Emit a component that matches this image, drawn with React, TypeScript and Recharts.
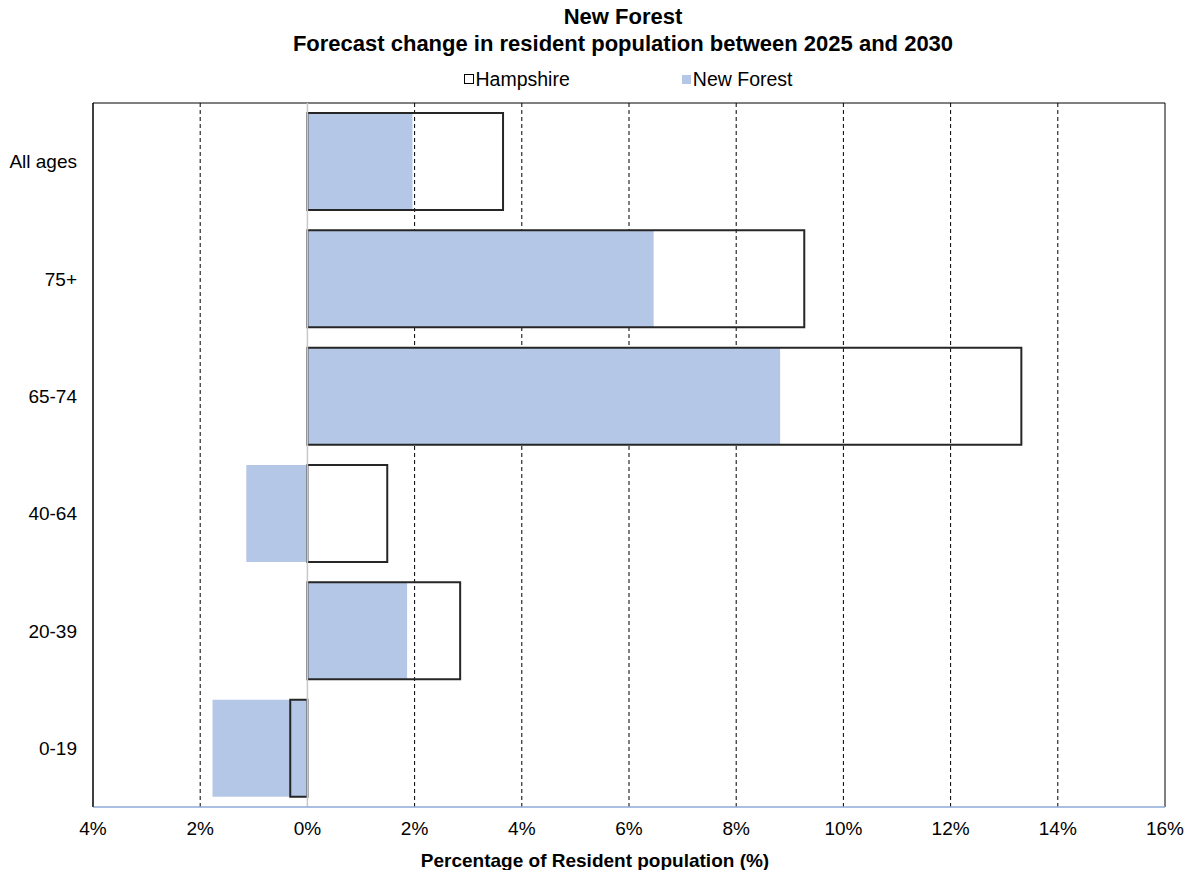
import React from 'react';
import { BarChart, Bar, XAxis, YAxis, CartesianGrid, ReferenceLine, ReferenceArea } from 'recharts';

const categories = ['All ages', '75+', '65-74', '40-64', '20-39', '0-19'];
const hampshire = [3.65, 9.27, 13.32, 1.49, 2.85, -0.32];
const newForest = [1.96, 6.46, 8.82, -1.14, 1.86, -1.77];
const xTicks = [-4, -2, 0, 2, 4, 6, 8, 10, 12, 14, 16];
const gridTicks = [-2, 2, 4, 6, 8, 10, 12, 14];

const data = categories.map((c, i) => ({ cat: c, hampshire: hampshire[i], newForest: newForest[i] }));

const FONT = '"Liberation Sans", Arial, sans-serif';
const PW = 1072;
const PH = 704;

export default function App() {
  return (
    <div style={{ position: 'relative', width: 1180, height: 862, fontFamily: FONT }}>
      <div style={{ position: 'absolute', left: 0, top: -5, width: 1230, textAlign: 'center', fontWeight: 'bold', fontSize: 22, lineHeight: '27px', color: '#000' }}>
        <div>New Forest</div>
        <div>Forecast change in resident population between 2025 and 2030</div>
      </div>
      <div style={{ position: 'absolute', left: 0, top: 59, width: 1240, display: 'flex', justifyContent: 'center', fontSize: 19.5, lineHeight: '24px', color: '#000' }}>
        <div style={{ display: 'flex', alignItems: 'center', marginRight: 112 }}>
          <span style={{ display: 'inline-block', width: 8, height: 8, border: '1.5px solid #000', marginRight: 2 }} />
          <span>Hampshire</span>
        </div>
        <div style={{ display: 'flex', alignItems: 'center' }}>
          <span style={{ display: 'inline-block', width: 9, height: 9, background: '#b4c7e7', marginRight: 2 }} />
          <span>New Forest</span>
        </div>
      </div>
      <BarChart
        width={1180}
        height={862}
        data={data}
        layout="vertical"
        margin={{ top: 95, right: 23, bottom: 0, left: 0 }}
        barCategoryGap="8.5%"
        style={{ position: 'absolute', left: 0, top: 0 }}
      >
        <CartesianGrid horizontal={false} vertical={true} verticalValues={gridTicks} stroke="#000" strokeDasharray="4 3" />
        <ReferenceArea yAxisId="a" x1={-4} x2={16} fill="none" stroke="#000" strokeWidth={1} strokeDasharray={`${PW + PH} ${PW} ${PH}`} />
        <XAxis
          type="number"
          dataKey="hampshire"
          domain={[-4, 16]}
          ticks={xTicks}
          tickFormatter={(v: number) => `${Math.abs(v)}%`}
          axisLine={{ stroke: '#8faadc', strokeWidth: 1.5 }}
          tickLine={false}
          tick={{ fill: '#000', fontSize: 19, fontFamily: FONT }}
          tickMargin={9}
          height={63}
          allowDataOverflow
          label={{ value: 'Percentage of Resident population (%)', position: 'insideBottom', offset: 3, dx: -34, fill: '#000', fontSize: 19, fontWeight: 'bold', fontFamily: FONT }}
        />
        <YAxis
          yAxisId="a"
          type="category"
          dataKey="cat"
          width={85}
          axisLine={{ stroke: '#000' }}
          tickLine={false}
          tick={{ fill: '#000', fontSize: 19, fontFamily: FONT }}
          tickMargin={10}
        />
        <YAxis yAxisId="b" type="category" dataKey="cat" hide />
        <Bar yAxisId="a" dataKey="newForest" name="New Forest" fill="#b4c7e7" isAnimationActive={false} />
        <ReferenceLine yAxisId="a" x={0} stroke="#c8c8c8" strokeWidth={1.5} />
        <Bar yAxisId="b" dataKey="hampshire" name="Hampshire" fill="none" stroke="#262626" strokeWidth={2} isAnimationActive={false} />
      </BarChart>
    </div>
  );
}
